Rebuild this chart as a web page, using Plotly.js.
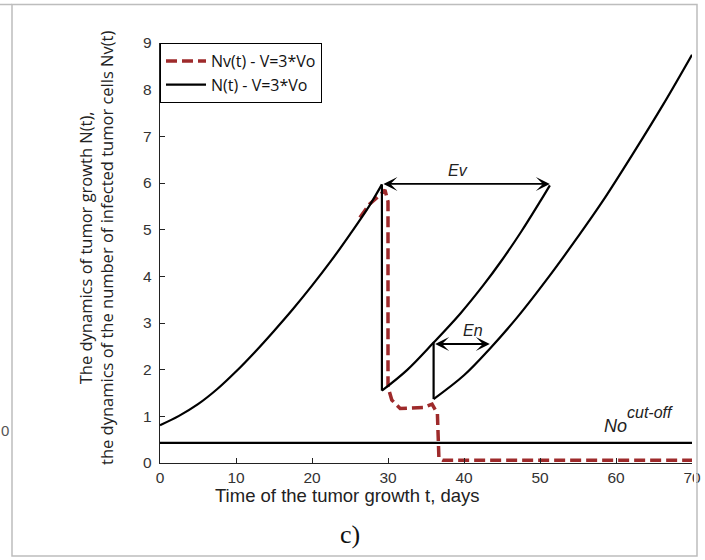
<!DOCTYPE html>
<html>
<head>
<meta charset="utf-8">
<script src="https://cdn.plot.ly/plotly-3.0.1.min.js"></script>
<style>html,body{margin:0;padding:0;background:#fff;}#chart{width:705px;height:560px;}</style>
</head>
<body>
<div id="chart"></div>
<script>
// N(t) - V=3*Vo : first growth segment
var tN1 = [0, 2.5, 5, 7.5, 10, 12.5, 15, 17.5, 20, 22.5, 25, 27.5, 29.2];
var yN1 = [0.81, 1.01, 1.26, 1.58, 1.96, 2.38, 2.83, 3.3, 3.8, 4.33, 4.9, 5.5, 5.97];
// first drop (t, from, to) and second drop
var tDrop1 = [29.2, 29.2];
var yDrop1 = [5.97, 1.55];
var tDrop2 = [36, 36];
var yDrop2 = [2.58, 1.37];
// second growth segment (continued up to the end of the Ev interval)
var tN2 = [29.2, 32.5, 36, 39.5, 42.5, 45, 47.5, 50, 51.3];
var yN2 = [1.55, 1.99, 2.58, 3.2, 3.8, 4.35, 4.95, 5.6, 5.95];
// third growth segment
var tN3 = [36, 40, 43.4, 47, 51.3, 55, 58.2, 62.2, 66.2, 70];
var yN3 = [1.37, 1.88, 2.45, 3.12, 4.02, 4.85, 5.6, 6.62, 7.68, 8.75];
// Nv(t) - V=3*Vo : infected tumour cells
var tNv = [26.3, 27.6, 29.0, 29.6, 30.0, 30.0, 30.5, 31.6, 34.7, 35.8, 36.5, 36.7, 37.2, 70];
var yNv = [5.26, 5.55, 5.75, 5.85, 5.6, 1.63, 1.35, 1.17, 1.19, 1.26, 1.06, 0.1, 0.06, 0.06];
// cut-off level No
var tCut = [0, 70];
var yCut = [0.43, 0.43];
// interval arrows [tStart, tEnd, level]
var evArrow = [29.2, 51.3, 5.98];
var enArrow = [36.0, 43.4, 2.55];
var evLabel = "Ev", enLabel = "En";
var legendNames = ["Nv(t) - V=3*Vo", "N(t) - V=3*Vo"];
var xTitle = "Time of the tumor growth t, days";
var yTitle = "The dynamics of tumor growth N(t),<br>the dynamics of the number of infected tumor cells Nv(t)";
var panelLabel = "c)";
var xTicks = [0, 10, 20, 30, 40, 50, 60, 70];
var yTicks = [0, 1, 2, 3, 4, 5, 6, 7, 8, 9];

var L = 160, R = 692, T = 43, B = 463;
function px(x){ return (x - L) / (R - L); }
function py(y){ return (B - y) / (B - T); }

var red = '#9e2a2b';
var blk = {color: '#000', width: 2.2};
var smooth = {color: '#000', width: 2.2, shape: 'spline', smoothing: 1};
var traces = [
  {x: tNv, y: yNv, mode: 'lines', name: legendNames[0], legendgroup: 'nv',
   line: {color: red, width: 3.5, dash: '11px,5px'}},
  {x: tN1, y: yN1, mode: 'lines', name: legendNames[1], legendgroup: 'n', line: smooth},
  {x: tDrop1, y: yDrop1, mode: 'lines', showlegend: false, legendgroup: 'n', line: blk},
  {x: tN2, y: yN2, mode: 'lines', showlegend: false, legendgroup: 'n', line: smooth},
  {x: tDrop2, y: yDrop2, mode: 'lines', showlegend: false, legendgroup: 'n', line: blk},
  {x: tN3, y: yN3, mode: 'lines', showlegend: false, legendgroup: 'n', line: smooth},
  {x: tCut, y: yCut, mode: 'lines', showlegend: false, line: blk}
];

var axFont = {family: '"Liberation Sans", Arial, sans-serif', size: 15.5, color: '#333'};
var ital = {family: '"Liberation Sans", Arial, sans-serif', size: 16, color: '#222'};

function arrow(a){
  return {x: a[1], y: a[2], ax: a[0], ay: a[2], xref: 'x', yref: 'y', axref: 'x', ayref: 'y',
    text: '', showarrow: true, arrowhead: 3, startarrowhead: 3, arrowside: 'end+start',
    arrowsize: 1.3, startarrowsize: 1.3, arrowwidth: 1.8, arrowcolor: '#000'};
}
function txt(x, y, text, font, extra){
  var a = {x: px(x), y: py(y), xref: 'paper', yref: 'paper', text: text, showarrow: false,
    xanchor: 'center', yanchor: 'middle', font: font};
  for (var k in (extra || {})) a[k] = extra[k];
  return a;
}

var layout = {
  width: 705, height: 560,
  margin: {l: L, r: 705 - R, t: T, b: 560 - B, pad: 0},
  paper_bgcolor: '#fff', plot_bgcolor: '#fff',
  showlegend: true,
  legend: {x: 0, y: 1, xanchor: 'left', yanchor: 'top', bgcolor: '#fff',
    bordercolor: '#000', borderwidth: 1,
    font: {family: '"Open Sans", "Noto Sans", sans-serif', size: 16, color: '#111'},
    tracegroupgap: 0, itemwidth: 40},
  xaxis: {range: [0, 70], tickvals: xTicks, ticks: 'inside', ticklen: 5, tickcolor: '#222',
    showgrid: false, zeroline: false, showline: true, linecolor: '#222', linewidth: 1.2,
    tickfont: axFont, mirror: false, fixedrange: true},
  yaxis: {range: [0, 9], tickvals: yTicks, ticks: 'inside', ticklen: 5, tickcolor: '#222',
    showgrid: false, zeroline: false, showline: true, linecolor: '#222', linewidth: 1.2,
    tickfont: axFont, mirror: false, fixedrange: true, ticklabelstandoff: 4},
  annotations: [
    arrow(evArrow), arrow(enArrow),
    {x: (evArrow[0] + evArrow[1]) / 2 - 1, y: evArrow[2] + 0.28, xref: 'x', yref: 'y', text: '<i>' + evLabel + '</i>',
     showarrow: false, xanchor: 'center', yanchor: 'middle', font: ital},
    {x: (enArrow[0] + enArrow[1]) / 2 + 1.5, y: enArrow[2] + 0.28, xref: 'x', yref: 'y', text: '<i>' + enLabel + '</i>',
     showarrow: false, xanchor: 'center', yanchor: 'middle', font: ital},
    txt(615, 426, '<i>No</i>', {family: ital.family, size: 18, color: '#222'}),
    txt(650, 412, '<i>cut-off</i>', {family: ital.family, size: 16, color: '#222'}),
    txt(347, 495, xTitle, {family: '"Liberation Sans", Arial, sans-serif', size: 18.5, color: '#222'}),
    txt(96, 248, yTitle, {family: '"Open Sans", "Noto Sans", sans-serif', size: 16.5, color: '#222'}, {textangle: -90}),
    txt(350, 534, panelLabel, {family: '"Liberation Serif", "Times New Roman", serif', size: 26, color: '#111'}),
    txt(5, 430, '0', {family: axFont.family, size: 15, color: '#555'})
  ],
  shapes: [
    {type: 'rect', xref: 'paper', yref: 'paper', x0: px(694), x1: px(696), y0: py(440), y1: py(490),
     fillcolor: '#fff', line: {width: 0}, layer: 'above'},
    {type: 'rect', xref: 'paper', yref: 'paper', x0: px(12), x1: px(697), y0: py(556), y1: py(4.5),
     fillcolor: 'rgba(0,0,0,0)', line: {color: '#bdbdbd', width: 1.5}, layer: 'above'},
    {type: 'line', xref: 'paper', yref: 'paper', x0: px(0), x1: px(12), y0: py(4.5), y1: py(4.5),
     line: {color: '#bdbdbd', width: 1.5}, layer: 'above'}
  ]
};

Plotly.newPlot('chart', traces, layout, {displayModeBar: false, staticPlot: true});
</script>
</body>
</html>
